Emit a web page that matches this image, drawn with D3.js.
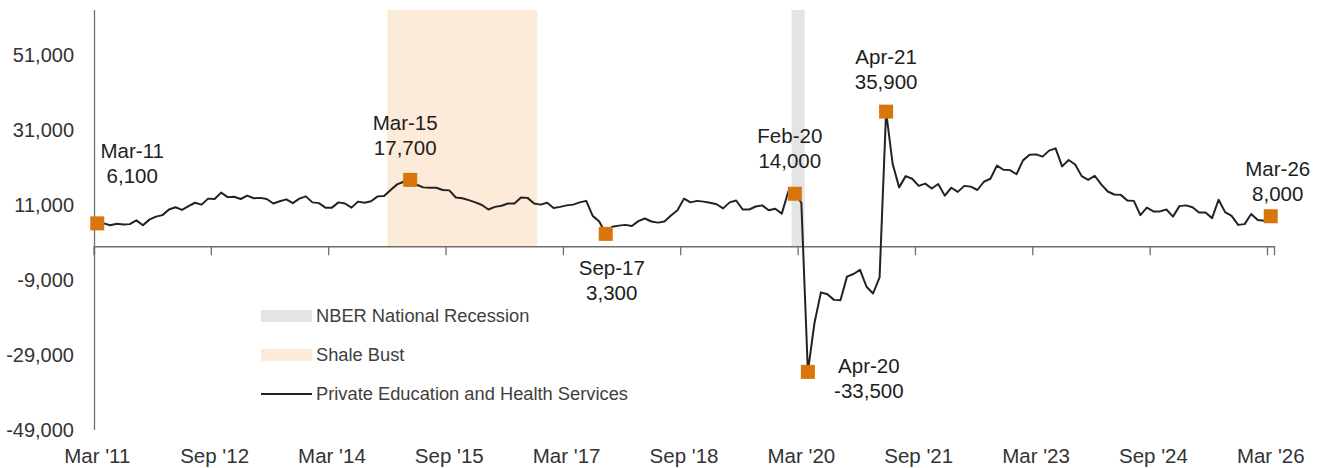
<!DOCTYPE html>
<html>
<head>
<meta charset="utf-8">
<script src="https://cdn.jsdelivr.net/npm/d3@7"></script>
<style>
  html, body { margin: 0; padding: 0; background: #ffffff; }
  svg { display: block; font-family: "Liberation Sans", Arial, Helvetica, sans-serif; }
</style>
</head>
<body>
<svg id="chart" width="1323" height="468"></svg>
<script>
// ---------- DATA ----------
const startMonth = "2011-03";
const monthCount = 181; // Mar 2011 .. Mar 2026

// Monthly over-the-year change, Private Education and Health Services
const seriesValues = [
  6100, 6100, 5600, 6000, 5800, 5900, 6900, 5600, 7100, 7900,
  8300, 9800, 10400, 9700, 10700, 11600, 11100, 12700, 12600, 14300,
  13100, 13200, 12600, 13500, 12800, 12900, 12600, 11400, 12000, 12500,
  11500, 12700, 13300, 11700, 11500, 10300, 10300, 11700, 11400, 10300,
  11900, 11600, 12000, 13300, 13400, 15000, 16500, 17200, 17700, 16400,
  15700, 15600, 15600, 15000, 14900, 13000, 12800, 12300, 11700, 11000,
  9800, 10500, 10800, 11400, 11400, 13000, 12900, 11400, 11100, 11600,
  10200, 10500, 10900, 11100, 11700, 12100, 8100, 6600, 3300, 5200,
  5500, 5700, 5400, 6700, 7400, 6600, 6300, 6600, 8200, 9600,
  12700, 11700, 12100, 11900, 11600, 11200, 10100, 11700, 12200, 9800,
  9800, 10600, 10900, 9600, 10000, 8700, 14600, 14000, 11600, -33500,
  -20600, -12300, -12800, -14300, -14400, -8100, -7400, -6300, -10800, -12600,
  -8300, 35900, 22000, 15700, 18700, 18000, 16100, 16700, 15400, 16600,
  13500, 15600, 14500, 16100, 15900, 15000, 17200, 18000, 21500, 20400,
  20300, 19200, 22900, 24400, 24500, 23900, 25500, 26100, 21300, 23000,
  21800, 18700, 17700, 18800, 16500, 14600, 13800, 13700, 12200, 12100,
  8300, 10300, 9300, 9300, 9800, 7900, 10700, 10900, 10400, 9000,
  9000, 7500, 12400, 9100, 8100, 5700, 5900, 8600, 7000, 6800,
  8000
];

const xTickKeys   = ["2011-03","2012-09","2014-03","2015-09","2017-03","2018-09","2020-03","2021-09","2023-03","2024-09","2026-03"];
const xTickLabels = ["Mar '11","Sep '12","Mar '14","Sep '15","Mar '17","Sep '18","Mar '20","Sep '21","Mar '23","Sep '24","Mar '26"];

const yTicks = [-49000, -29000, -9000, 11000, 31000, 51000];
const yDomain = [-49000, 63000];

const shaleBustMonths = ["2014-12", "2016-10"];  // first, last shaded month
const recessionMonths = ["2020-02", "2020-03"];

const annoKeys  = ["2011-03","2015-03","2017-09","2020-02","2020-04","2021-04","2026-03"];
const annoNames = ["Mar-11","Mar-15","Sep-17","Feb-20","Apr-20","Apr-21","Mar-26"];

const legendLabels = ["NBER National Recession", "Shale Bust", "Private Education and Health Services"];

// ---------- LAYOUT ----------
const fmtKey = d3.timeFormat("%Y-%m");
const parseKey = d3.timeParse("%Y-%m");
const monthKeys = d3.range(monthCount).map(i => fmtKey(d3.timeMonth.offset(parseKey(startMonth), i)));
const data = monthKeys.map((k, i) => ({ key: k, value: seriesValues[i] }));

const locale = d3.formatLocale({ decimal: ".", thousands: ",", grouping: [3], currency: ["$", ""], minus: "-" });
const fmtNum = locale.format(",");

const svg = d3.select("#chart");
const x = d3.scaleBand().domain(monthKeys).range([94, 1274]).paddingInner(0).paddingOuter(0);
const y = d3.scaleLinear().domain(yDomain).range([430, 10]);
const bw = x.bandwidth();
const cx = k => x(k) + bw / 2;

const COLORS = {
  recession: "#e4e4e4",
  shale: "#fdebd9",
  line: "#222222",
  marker: "#d8760c",
  axis: "#6e6e6e",
  text: "#1e1e1e",
  tick: "#333333",
  legend: "#404040"
};

// ---------- SHADING ----------
function shade(months, color) {
  const x0 = x(months[0]);
  const x1 = x(months[1]) + bw;
  svg.append("rect")
    .attr("x", x0).attr("y", y(yDomain[1]))
    .attr("width", x1 - x0).attr("height", y(0) - y(yDomain[1]))
    .attr("fill", color);
}
shade(shaleBustMonths, COLORS.shale);
shade(recessionMonths, COLORS.recession);

// ---------- AXES ----------
svg.append("line")
  .attr("x1", 94.5).attr("x2", 94.5)
  .attr("y1", y(yDomain[1])).attr("y2", y(yDomain[0]))
  .attr("stroke", COLORS.axis).attr("stroke-width", 1.3);

const yAxis = d3.axisLeft(y).tickValues(yTicks).tickSize(0).tickPadding(0).tickFormat(fmtNum);
const gy = svg.append("g").attr("transform", "translate(74,0)").call(yAxis);
gy.select(".domain").remove();
gy.selectAll("text").attr("font-size", 20).attr("fill", COLORS.tick)
  .attr("font-family", "'Liberation Sans', Arial, sans-serif");

const gx = svg.append("g").attr("transform", `translate(0,${y(0)})`)
  .call(d3.axisBottom(x).tickValues(xTickKeys).tickSize(9).tickFormat(""));
gx.select(".domain").attr("stroke", COLORS.axis).attr("stroke-width", 1.3);
gx.selectAll(".tick line").attr("stroke", COLORS.axis).attr("stroke-width", 1.3)
  .attr("transform", `translate(${-bw / 2},0)`);

const gxl = svg.append("g").attr("transform", "translate(0,463)")
  .call(d3.axisBottom(x).tickValues(xTickKeys).tickSize(0).tickPadding(0)
    .tickFormat((d, i) => xTickLabels[i]));
gxl.select(".domain").remove();
gxl.selectAll("text").attr("font-size", 20.5).attr("fill", COLORS.tick)
  .attr("dy", 0).attr("font-family", "'Liberation Sans', Arial, sans-serif");

// ---------- LINE ----------
const line = d3.line().x(d => cx(d.key)).y(d => y(d.value));
svg.append("path").datum(data)
  .attr("d", line).attr("fill", "none")
  .attr("stroke", COLORS.line).attr("stroke-width", 2)
  .attr("stroke-linejoin", "round");

// ---------- MARKERS + ANNOTATIONS ----------
const labelOffsets = [[35, -65], [-5, -50], [6, 41], [-5, -51], [61, 1], [0, -48], [7, -40]];
const ms = 14;
annoKeys.forEach((k, i) => {
  const v = seriesValues[monthKeys.indexOf(k)];
  const px = cx(k), py = y(v);
  svg.append("rect")
    .attr("x", px - ms / 2).attr("y", py - ms / 2)
    .attr("width", ms).attr("height", ms)
    .attr("fill", COLORS.marker);
  const [dx, dy] = labelOffsets[i];
  const t = svg.append("text")
    .attr("x", px + dx).attr("y", py + dy)
    .attr("text-anchor", "middle").attr("font-size", 20.5).attr("fill", COLORS.text);
  t.append("tspan").attr("x", px + dx).text(annoNames[i]);
  t.append("tspan").attr("x", px + dx).attr("dy", 25).text(fmtNum(v));
});

// ---------- LEGEND ----------
const lg = svg.append("g").attr("transform", "translate(261,0)");
const legendY = [316, 355, 394];
lg.append("rect").attr("x", 0).attr("y", legendY[0] - 6).attr("width", 51).attr("height", 12).attr("fill", COLORS.recession);
lg.append("rect").attr("x", 0).attr("y", legendY[1] - 6).attr("width", 51).attr("height", 12).attr("fill", COLORS.shale);
lg.append("line").attr("x1", 0).attr("x2", 51).attr("y1", legendY[2]).attr("y2", legendY[2])
  .attr("stroke", COLORS.line).attr("stroke-width", 2);
legendLabels.forEach((s, i) => {
  lg.append("text").attr("x", 55).attr("y", legendY[i] + 6)
    .attr("font-size", 18.3).attr("fill", COLORS.legend).text(s);
});
</script>
</body>
</html>
